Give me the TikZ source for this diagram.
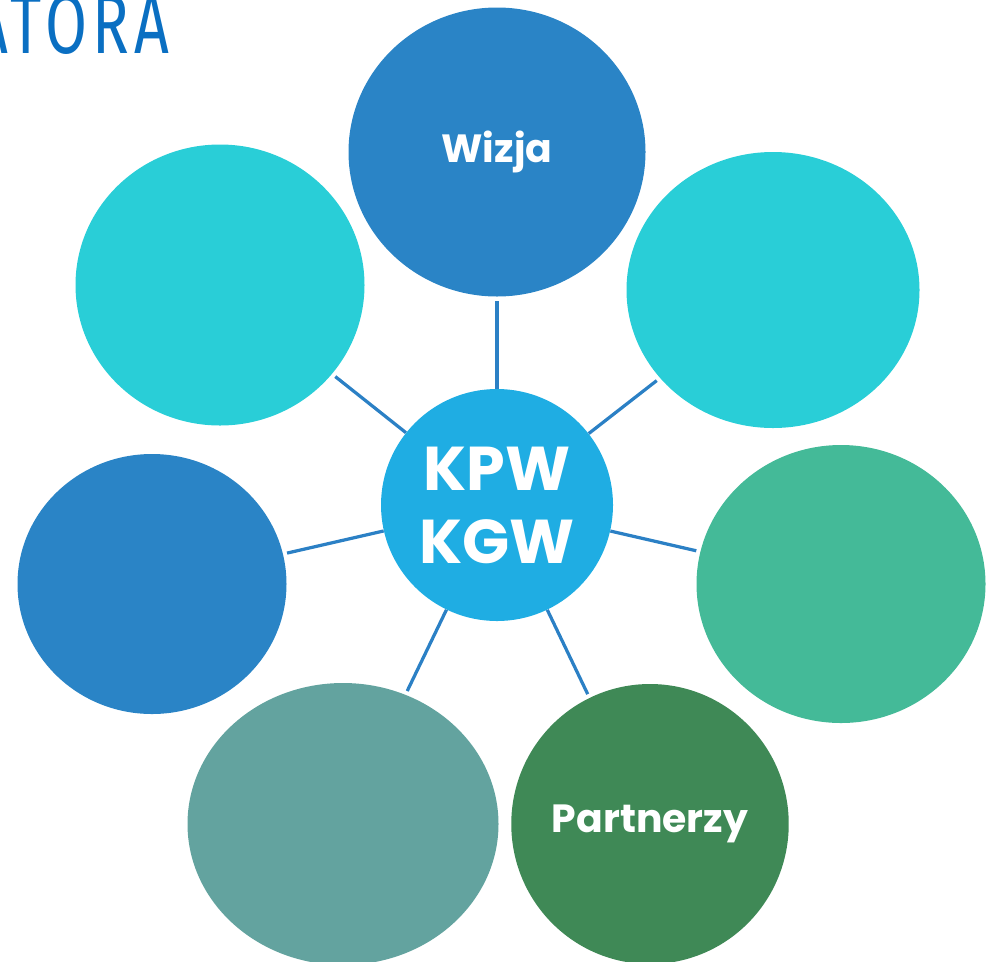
\documentclass[tikz,border=0pt]{standalone}
\usepackage{fontspec}
\setmainfont{Poppins}
\newfontfamily\titlefont[LetterSpace=9]{Fira Sans}
\usepackage{tikz}
\usetikzlibrary{shapes.geometric}
\definecolor{wizblue}{HTML}{2A84C6}
\definecolor{aqua}{HTML}{29CED7}
\definecolor{hubblue}{HTML}{1FADE3}
\definecolor{mint}{HTML}{44BA98}
\definecolor{sage}{HTML}{63A39F}
\definecolor{forest}{HTML}{3F8956}
\definecolor{linkblue}{HTML}{2B80C5}
\definecolor{titleblue}{HTML}{0A6FC2}
\newcommand{\px}{0.025cm}

\begin{document}
\begin{tikzpicture}[x=0.025cm,y=-0.025cm,
  blob/.style={ellipse,inner sep=0pt,text=white,font=\bfseries\fontsize{28}{32}\selectfont},
  hub/.style={blob,fill=hubblue,minimum width=232*\px,minimum height=232*\px,align=center,font=\bfseries\fontsize{44}{52}\selectfont},
  link/.style={draw=linkblue,line width=2.3pt,shorten >=4*\px}]
  \useasboundingbox (0,0) rectangle (997,961);
  \node[anchor=south east,text=titleblue,inner sep=0pt] (ttl) at (170,55)
    {\titlefont\fontsize{60}{60}\selectfont\scalebox{0.72}[1]{ATORA}};
  \node[hub] (ctr) at (497,505) {KPW\\KGW};
  \node[blob,fill=wizblue,minimum width=297*\px,minimum height=289*\px] (wiz) at (497,152) {Wizja};
  \node[blob,fill=aqua,minimum width=289*\px,minimum height=281*\px] (nw) at (220,285) {};
  \node[blob,fill=aqua,minimum width=293*\px,minimum height=276*\px] (ne) at (773,290) {};
  \node[blob,fill=wizblue,minimum width=269*\px,minimum height=260*\px] (w) at (152,584) {};
  \node[blob,fill=mint,minimum width=289*\px,minimum height=278*\px] (e) at (841,584) {};
  \node[blob,fill=sage,minimum width=311*\px,minimum height=282*\px] (sw) at (343,824) {};
  \node[blob,fill=forest,minimum width=276*\px,minimum height=280*\px] (prt) at (650,824) {Partnerzy};
  \draw[link] (ctr) -- (wiz); \draw[link] (ctr) -- (nw); \draw[link] (ctr) -- (ne);
  \draw[link] (ctr) -- (w); \draw[link] (ctr) -- (e);
  \draw[link] (ctr) -- (sw); \draw[link] (ctr) -- (prt);
\end{tikzpicture}
\end{document}
